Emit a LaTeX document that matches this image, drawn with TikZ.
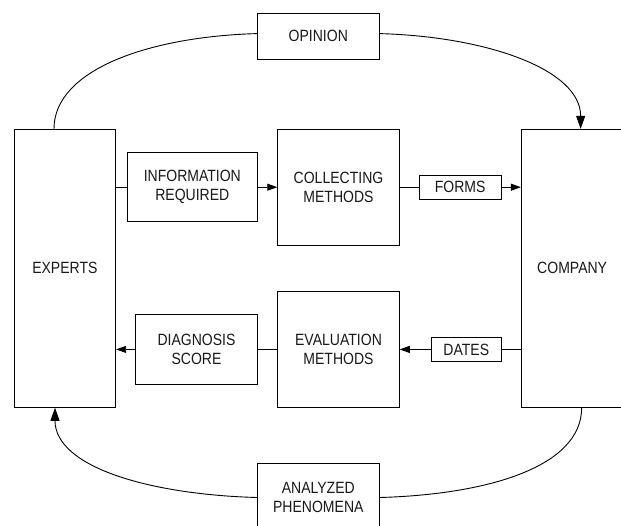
\documentclass[tikz,border=0pt]{standalone}
\usepackage{fontspec}
\setmainfont{Liberation Sans}[FakeStretch=0.86]
\usetikzlibrary{arrows.meta}
\begin{document}
\begin{tikzpicture}[x=1pt,y=-1pt,
  box/.style={draw=black, line width=0.9pt, align=center, inner sep=0pt,
    text=black!90, font=\fontsize{16.3}{19}\selectfont},
  link/.style={line width=0.9pt},
  arr/.style={link, -{Triangle[length=10pt,width=7pt]}},
  bigarr/.style={link, -{Triangle[length=13pt,width=9pt]}}]
\useasboundingbox (0,0) rectangle (621,525);
\clip (0,0) rectangle (621,525);
\fill[white] (0,0) rectangle (621,525);

% outer actors
\node[box, minimum width=101.7pt, minimum height=278pt] (experts) at (64.85,268.3) {EXPERTS};
\node[box, minimum width=101.7pt, minimum height=278pt] (company) at (572.15,268.3) {COMPANY};

% feedback boxes on the outer loop
\node[box, minimum width=122pt, minimum height=46pt] (opinion) at (318.3,36.3) {OPINION};
\node[box, minimum width=122pt, minimum height=68.4pt] (analyzed) at (318.3,497.5) {ANALYZED\\PHENOMENA};

% upper chain
\node[box, minimum width=130pt, minimum height=69pt] (info) at (192.3,187.2) {INFORMATION\\REQUIRED};
\node[box, minimum width=121.6pt, minimum height=115.7pt] (collect) at (338.5,187.2) {COLLECTING\\METHODS};
\node[box, minimum width=81.7pt, minimum height=24pt] (forms) at (460.15,187.2) {FORMS};

% lower chain
\node[box, minimum width=121.6pt, minimum height=69.3pt] (diag) at (196.5,349.4) {DIAGNOSIS\\SCORE};
\node[box, minimum width=121.6pt, minimum height=115.6pt] (eval) at (338.5,349.4) {EVALUATION\\METHODS};
\node[box, minimum width=70pt, minimum height=23.3pt] (dates) at (466.3,349.4) {DATES};

% straight connectors
\draw[link] (experts.east |- info.west) -- (info.west);
\draw[arr] (info.east) -- (collect.west);
\draw[link] (collect.east) -- (forms.west);
\draw[arr] (forms.east) -- (company.west |- forms.east);
\draw[link] (company.west |- dates.east) -- (dates.east);
\draw[arr] (dates.west) -- (eval.east);
\draw[link] (eval.west) -- (diag.east);
\draw[arr] (diag.west) -- (experts.east |- diag.west);

% outer loop
\coordinate (eTop) at ([xshift=-10.85pt]experts.north);
\coordinate (cTop) at ([xshift=8.5pt]company.north);
\coordinate (cBot) at ([xshift=9.5pt]company.south);
\coordinate (eBot) at ([xshift=-9.85pt]experts.south);
\coordinate (oL) at ([yshift=2.7pt]opinion.west);
\coordinate (oR) at ([yshift=2.7pt]opinion.east);
\coordinate (aL) at (analyzed.west);
\coordinate (aR) at (analyzed.east);
\draw[link] (eTop) .. controls +(0,-59.3) and +(-107.3,3) .. (oL);
\draw[bigarr] (oR) .. controls +(107.3,3) and +(0,-59.3) .. (cTop);
\draw[link] (cBot) .. controls +(0,59.3) and +(107.3,-3) .. (aR);
\draw[bigarr] (aL) .. controls +(-107.3,-3) and +(0,59.3) .. (eBot);
\end{tikzpicture}
\end{document}
